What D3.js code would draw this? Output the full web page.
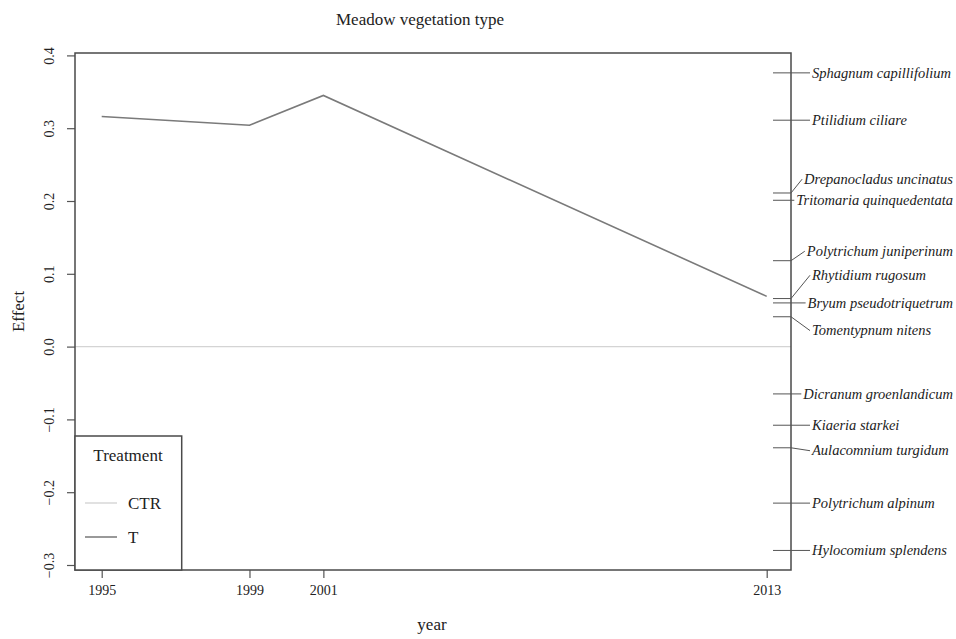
<!DOCTYPE html>
<html>
<head>
<meta charset="utf-8">
<script src="https://cdn.jsdelivr.net/npm/d3@7"></script>
<style>
  body { margin: 0; background: #fff; }
  svg { display: block; font-family: "Liberation Serif", "Times New Roman", serif; }
</style>
</head>
<body>
<div id="wrapper"></div>
<script>
// data
const years = [1995, 1999, 2001, 2013];
const effectT = [0.316, 0.304, 0.345, 0.069];
const effectCTR = [0, 0, 0, 0];
const yTicks = [-0.3, -0.2, -0.1, 0.0, 0.1, 0.2, 0.3, 0.4];

const species = ["Sphagnum capillifolium", "Ptilidium ciliare", "Drepanocladus uncinatus",
    "Tritomaria quinquedentata", "Polytrichum juniperinum", "Rhytidium rugosum",
    "Bryum pseudotriquetrum", "Tomentypnum nitens", "Dicranum groenlandicum",
    "Kiaeria starkei", "Aulacomnium turgidum", "Polytrichum alpinum", "Hylocomium splendens"];
const speciesEffect = [0.376, 0.311, 0.211, 0.201, 0.118, 0.066, 0.060, 0.041,
    -0.065, -0.108, -0.139, -0.215, -0.280];
// where the (repelled) label sits, in effect units
const labelEffect = [0.376, 0.311, 0.230, 0.201, 0.131, 0.098, 0.060, 0.022,
    -0.065, -0.108, -0.143, -0.215, -0.280];

const dimension = {
    width: 956,
    height: 639,
    box: { left: 75, right: 791, top: 53, bottom: 570 }
};

const svg = d3.select("#wrapper")
    .append("svg")
    .attr("width", dimension.width)
    .attr("height", dimension.height);

const xScaler = d3.scaleLinear()
    .domain([1995, 2013])
    .range([101.7, 766.7]);

const yScaler = d3.scaleLinear()
    .domain([-0.3, 0.4])
    .range([565, 55.4]);

const box = dimension.box;

// zero line (CTR)
const lineGen = d3.line()
    .x((d, i) => xScaler(years[i]))
    .y(d => yScaler(d));

svg.append("line")
    .attr("x1", box.left)
    .attr("x2", box.right)
    .attr("y1", yScaler(effectCTR[0]))
    .attr("y2", yScaler(effectCTR[0]))
    .attr("stroke", "#d4d4d4")
    .attr("stroke-width", 1.2);

// T series
svg.append("path")
    .datum(effectT)
    .attr("d", lineGen)
    .attr("fill", "none")
    .attr("stroke", "#7a7a7a")
    .attr("stroke-width", 1.6);

// axes
const xAxis = svg.append("g")
    .attr("transform", `translate(0,${box.bottom})`)
    .call(d3.axisBottom(xScaler).tickValues(years).tickFormat(d3.format("d")).tickSize(8).tickPadding(7));
xAxis.select(".domain").remove();
xAxis.selectAll("line").attr("stroke", "#555").attr("stroke-width", 1.2);
xAxis.selectAll("text").attr("font-size", 14).attr("fill", "#222")
    .attr("font-family", "Liberation Serif, serif");

const yAxis = svg.append("g")
    .attr("transform", `translate(${box.left},0)`)
    .call(d3.axisLeft(yScaler).tickValues(yTicks).tickFormat(d3.format(".1f")).tickSize(8));
yAxis.select(".domain").remove();
yAxis.selectAll("line").attr("stroke", "#555").attr("stroke-width", 1.2);
yAxis.selectAll("text")
    .text(d => d3.format(".1f")(d).replace("-", "\u2212"))
    .attr("transform", "rotate(-90)")
    .attr("x", 0)
    .attr("y", -21)
    .attr("dy", 0)
    .attr("text-anchor", "middle")
    .attr("font-size", 14)
    .attr("fill", "#222")
    .attr("font-family", "Liberation Serif, serif");

// plot box
svg.append("rect")
    .attr("x", box.left)
    .attr("y", box.top)
    .attr("width", box.right - box.left)
    .attr("height", box.bottom - box.top)
    .attr("fill", "none")
    .attr("stroke", "#4a4a4a")
    .attr("stroke-width", 1.5);

// species labels on the right
const labels = svg.append("g");
species.forEach((name, i) => {
    const yv = yScaler(speciesEffect[i]);
    const yl = yScaler(labelEffect[i]);
    const txt = labels.append("text")
        .attr("y", yl)
        .attr("dy", "0.32em")
        .attr("font-size", 14.5)
        .attr("font-style", "italic")
        .attr("fill", "#222")
        .text(name);
    const w = txt.node().getComputedTextLength();
    const tx = Math.min(812, 953 - w);
    txt.attr("x", tx);
    labels.append("line")
        .attr("x1", 773).attr("x2", box.right)
        .attr("y1", yv).attr("y2", yv)
        .attr("stroke", "#555").attr("stroke-width", 1);
    labels.append("line")
        .attr("x1", box.right).attr("x2", tx - 2)
        .attr("y1", yv).attr("y2", yl)
        .attr("stroke", "#555").attr("stroke-width", 1);
});

// titles
svg.append("text")
    .attr("x", 420).attr("y", 25)
    .attr("text-anchor", "middle")
    .attr("font-size", 17)
    .attr("fill", "#222")
    .text("Meadow vegetation type");

svg.append("text")
    .attr("x", 432).attr("y", 630)
    .attr("text-anchor", "middle")
    .attr("font-size", 17)
    .attr("fill", "#222")
    .text("year");

svg.append("text")
    .attr("transform", `translate(24,${(box.top + box.bottom) / 2}) rotate(-90)`)
    .attr("text-anchor", "middle")
    .attr("font-size", 17)
    .attr("fill", "#222")
    .text("Effect");

// legend
const legend = svg.append("g");
legend.append("rect")
    .attr("x", box.left).attr("y", 436)
    .attr("width", 106.7).attr("height", box.bottom - 436)
    .attr("fill", "#fff")
    .attr("stroke", "#4a4a4a")
    .attr("stroke-width", 1.5);
legend.append("text")
    .attr("x", 128).attr("y", 461)
    .attr("text-anchor", "middle")
    .attr("font-size", 17)
    .attr("fill", "#222")
    .text("Treatment");

const legendItems = ["CTR", "T"];
const legendColors = ["#d4d4d4", "#6e6e6e"];
legendItems.forEach((name, i) => {
    const ly = 503 + i * 34;
    legend.append("line")
        .attr("x1", 85).attr("x2", 117)
        .attr("y1", ly).attr("y2", ly)
        .attr("stroke", legendColors[i])
        .attr("stroke-width", 1.4);
    legend.append("text")
        .attr("x", 128).attr("y", ly)
        .attr("dy", "0.35em")
        .attr("font-size", 17)
        .attr("fill", "#222")
        .text(name);
});
</script>
</body>
</html>
